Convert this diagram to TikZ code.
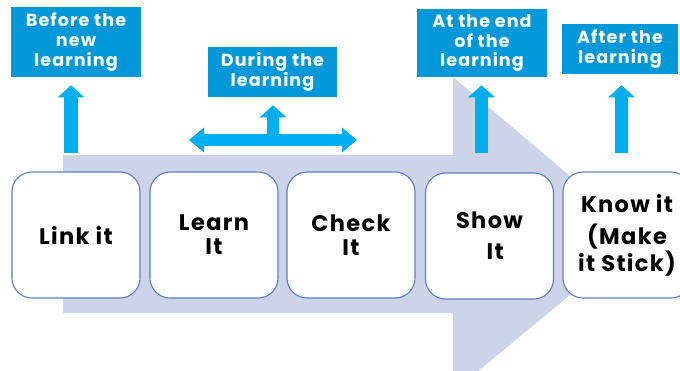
\documentclass[tikz,border=0pt]{standalone}
\usepackage{fontspec}
\setmainfont{Poppins}[LetterSpace=6]
\usetikzlibrary{arrows.meta,positioning}
\definecolor{lavender}{HTML}{CDD3E8}
\definecolor{tagblue}{HTML}{0098D8}
\definecolor{arrowblue}{HTML}{00AEEF}
\definecolor{edgeblue}{HTML}{5B7FC4}

\begin{document}
\begin{tikzpicture}
[x=0.025cm,y=-0.025cm,
 stage/.style={draw=edgeblue,line width=0.8pt,fill=white,rounded corners=0.5cm,
   minimum width=3.2cm,minimum height=3.15cm,inner sep=0pt,align=center,
   font=\fontsize{16}{17}\selectfont\bfseries},
 tag/.style={fill=tagblue,text=white,inner sep=0pt,align=center,
   font=\fontsize{12.5}{14}\selectfont\bfseries},
 uparrow/.style={draw=arrowblue,line width=0.33cm,shorten >=0.2cm,
   -{Triangle[width=0.65cm,length=0.3cm]}}]
   \useasboundingbox (0,0) rectangle (680,370);
   \clip (0,0) rectangle (680,370);
   % big arrow behind the steps
   \fill[lavender] (63,155) -- (453,155) -- (453,77) -- (641,236)
      -- (453,392) -- (453,313) -- (63,313) -- cycle;
   % the five steps
   \node[stage] (link)  at (76,235)    {Link it};
   \node[stage] (learn) at (214,235)   {Learn\\It};
   \node[stage] (check) at (351,235)   {Check\\It};
   \node[stage] (show)  at (489.5,236) {Show\\[5pt]\hspace{0.5em}It};
   \node[stage] (know)  at (627,235)   {Know it\\[6pt](Make\\it Stick)};
   % when it happens
   \node[tag,minimum width=3.25cm,minimum height=1.75cm] (before) at (76,42)
      {Before the\\new\\learning};
   \node[tag,minimum width=3.225cm,minimum height=1.25cm] (during) at (272.5,72)
      {During the\\learning};
   \node[tag,minimum width=3.25cm,minimum height=1.7cm] (atend) at (482,43)
      {At the end\\of the\\learning};
   \node[tag,minimum width=2.9cm,minimum height=1.25cm] (after) at (620,49)
      {After the\\learning};
   % arrows
   \coordinate (a1) at (71,153);
   \coordinate (a3) at (481.5,153);
   \coordinate (a4) at (621.5,153);
   \coordinate (dl) at (189,140);
   \coordinate (dr) at (357,140);
   \coordinate (dm) at (273,140);
   \draw[uparrow] (a1) -- (a1 |- before.south);
   \draw[uparrow] (a3) -- (a3 |- atend.south);
   \draw[uparrow,shorten >=0.275cm] (a4) -- (a4 |- after.south);
   \draw[draw=arrowblue,line width=0.3cm,
      {Triangle[width=0.6cm,length=0.375cm]}-{Triangle[width=0.6cm,length=0.375cm]}]
      (dl) -- (dr);
   \draw[uparrow,line width=0.3cm] (dm) -- (dm |- during.south);
\end{tikzpicture}
\end{document}
